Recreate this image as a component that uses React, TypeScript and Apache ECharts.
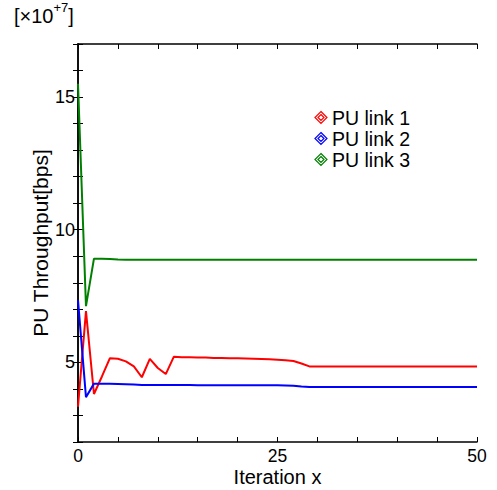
import React, { useEffect, useRef } from "react";
import * as echarts from "echarts";

const iterations: number[] = Array.from({ length: 51 }, (_, i) => i);

const link1: number[] = [
  3.33, 6.93, 3.81, 4.47, 5.16, 5.14, 5.04, 4.85, 4.44, 5.13, 4.79, 4.56, 5.21,
  5.19, 5.19, 5.18, 5.18, 5.17, 5.17, 5.16, 5.16, 5.15, 5.14, 5.13, 5.12, 5.10,
  5.08, 5.05, 4.96, 4.85, 4.85, 4.85, 4.85, 4.85, 4.85, 4.85, 4.85, 4.85, 4.85,
  4.85, 4.85, 4.85, 4.85, 4.85, 4.85, 4.85, 4.85, 4.85, 4.85, 4.85, 4.85,
];
const link2: number[] = [
  7.35, 3.69, 4.2, 4.2, 4.2, 4.19, 4.18, 4.17, 4.15, 4.15, 4.15, 4.15, 4.15,
  4.15, 4.15, 4.14, 4.14, 4.14, 4.14, 4.14, 4.14, 4.14, 4.14, 4.14, 4.14, 4.14,
  4.13, 4.12, 4.09, 4.07, 4.07, 4.07, 4.07, 4.07, 4.07, 4.07, 4.07, 4.07, 4.07,
  4.07, 4.07, 4.07, 4.07, 4.07, 4.07, 4.07, 4.07, 4.07, 4.07, 4.07, 4.07,
];
const link3: number[] = [
  15.5, 7.12, 8.91, 8.91, 8.9, 8.88, 8.87, 8.87, 8.87, 8.87, 8.87, 8.87, 8.87,
  8.87, 8.87, 8.87, 8.87, 8.87, 8.87, 8.87, 8.87, 8.87, 8.87, 8.87, 8.87, 8.87,
  8.87, 8.87, 8.87, 8.87, 8.87, 8.87, 8.87, 8.87, 8.87, 8.87, 8.87, 8.87, 8.87,
  8.87, 8.87, 8.87, 8.87, 8.87, 8.87, 8.87, 8.87, 8.87, 8.87, 8.87, 8.87,
];

const seriesNames = ["PU link 1", "PU link 2", "PU link 3"];
const seriesColors = ["#ff0000", "#0000ff", "#008000"];
const xTickLabels = [0, 25, 50];
const yTickLabels = [5, 10, 15];

const FONT = "'Liberation Sans', Arial, sans-serif";
const ICON = "path://M5,0L10,5L5,10L0,5Z M5,2.5L7.5,5L5,7.5L2.5,5Z";

export default function App() {
  const ref = useRef<HTMLDivElement>(null);
  useEffect(() => {
    if (!ref.current) return;
    const chart = echarts.init(ref.current, undefined, { renderer: "svg" });
    const allData = [link1, link2, link3];
    const axisCommon = {
      axisLine: { show: true, lineStyle: { color: "#000", width: 1.5 } },
      axisTick: { show: true, inside: true, length: 5, lineStyle: { color: "#000", width: 1 } },
      splitLine: { show: false },
    };
    chart.setOption({
      animation: false,
      backgroundColor: "#fff",
      grid: { left: 78, right: 20, top: 44, bottom: 48, containLabel: false, outerBoundsMode: "none" },
      graphic: [
        {
          type: "text",
          left: 14,
          top: 1,
          style: {
            text: "{a|[×10}{s|+7}{a|]}",
            rich: {
              a: { fontSize: 20, fontFamily: FONT, fill: "#000", verticalAlign: "bottom", lineHeight: 25 },
              s: { fontSize: 13, fontFamily: FONT, fill: "#000", verticalAlign: "top", lineHeight: 25 },
            },
          },
        },
      ],
      legend: {
        orient: "vertical",
        right: 82,
        top: 102,
        itemWidth: 12,
        itemHeight: 12,
        itemGap: 0,
        textStyle: { fontSize: 19.5, fontFamily: FONT, color: "#000", lineHeight: 21 },
        data: seriesNames.map((n, i) => ({
          name: n,
          icon: ICON,
          itemStyle: { color: "none", borderColor: seriesColors[i], borderWidth: 1.2 },
        })),
      },
      xAxis: [
        {
          type: "value",
          min: 0,
          max: 50,
          interval: 5,
          name: "Iteration x",
          nameLocation: "middle",
          nameGap: 25,
          nameMoveOverlap: false,
          nameTextStyle: { fontSize: 20, fontFamily: FONT, color: "#000" },
          ...axisCommon,
          axisLabel: {
            fontSize: 17.5,
            fontFamily: FONT,
            color: "#000",
            margin: 5,
            formatter: (v: number) => (xTickLabels.includes(v) ? String(v) : ""),
          },
        },
        {
          type: "value",
          position: "top",
          min: 0,
          max: 50,
          interval: 5,
          ...axisCommon,
          axisLabel: { show: false },
        },
      ],
      yAxis: [
        {
          type: "value",
          min: 2,
          max: 17,
          interval: 1,
          name: "PU Throughput[bps]",
          nameLocation: "middle",
          nameGap: 27,
          nameMoveOverlap: false,
          nameTextStyle: { fontSize: 21, fontFamily: FONT, color: "#000" },
          ...axisCommon,
          axisLabel: {
            fontSize: 18,
            fontFamily: FONT,
            color: "#000",
            margin: 3,
            formatter: (v: number) => (yTickLabels.includes(v) ? String(v) : ""),
          },
        },
        {
          type: "value",
          position: "right",
          min: 2,
          max: 17,
          interval: 1,
          ...axisCommon,
          axisLabel: { show: false },
        },
      ],
      series: seriesNames.map((n, i) => ({
        name: n,
        type: "line",
        showSymbol: false,
        symbol: "none",
        color: seriesColors[i],
        lineStyle: { width: 2, color: seriesColors[i] },
        data: iterations.map((x, j) => [x, allData[i][j]]),
      })),
    });
    return () => chart.dispose();
  }, []);
  return (
    <div
      ref={ref}
      style={{ position: "absolute", left: 0, top: 0, width: 497, height: 490 }}
    />
  );
}
